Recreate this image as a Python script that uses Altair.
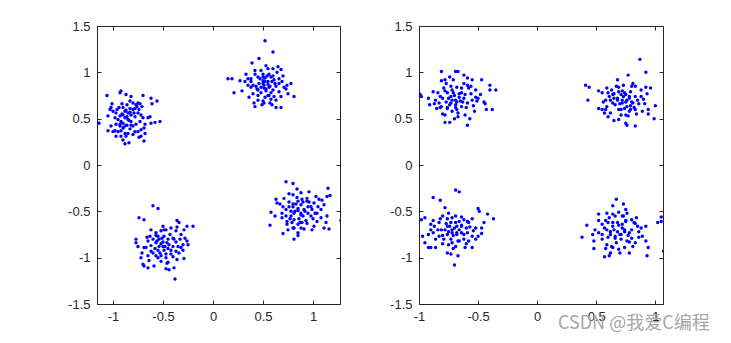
import altair as alt
import pandas as pd

# ---------------- data ----------------
left_ul = [(-1.16,0.46),(-1.14,0.45),(-1.06,0.75),(-1.01,0.66),(-1.02,0.62),(-1.03,0.60),(-1.00,0.58),(-1.05,0.53),(-0.97,0.56),(-0.98,0.51),
(-0.93,0.53),(-0.95,0.49),(-0.92,0.47),(-0.97,0.44),(-0.93,0.42),(-0.90,0.40),(-1.02,0.42),(-1.05,0.37),(-0.98,0.37),(-0.95,0.36),
(-0.92,0.37),(-0.88,0.34),(-0.87,0.31),(-0.90,0.27),(-0.88,0.23),(-0.84,0.24),(-0.93,0.78),(-0.92,0.80),(-0.87,0.76),(-0.82,0.74),
(-0.80,0.67),(-0.77,0.65),(-0.75,0.67),(-0.78,0.61),(-0.83,0.61),(-0.87,0.59),(-0.90,0.62),(-0.85,0.56),(-0.82,0.54),(-0.78,0.52),
(-0.75,0.56),(-0.72,0.54),(-0.70,0.51),(-0.73,0.47),(-0.77,0.44),(-0.80,0.42),(-0.83,0.39),(-0.85,0.34),(-0.80,0.33),(-0.75,0.36),
(-0.72,0.38),(-0.69,0.40),(-0.68,0.44),(-0.65,0.51),(-0.63,0.52),(-0.62,0.45),(-0.58,0.46),(-0.53,0.47),(-0.62,0.72),(-0.56,0.69),
(-0.61,0.66),(-0.70,0.75),(-0.74,0.30),(-0.69,0.26),(-0.82,0.43),(-0.87,0.43),(-0.88,0.51),(-0.90,0.54),(-1.00,0.36),(-0.97,0.31),
(-0.85,0.49),(-0.82,0.47),(-0.78,0.36),(-0.68,0.34),(-0.92,0.31),(-0.72,0.31),
(-0.91,0.55),(-0.88,0.58),(-0.86,0.52),(-0.84,0.48),(-0.90,0.45),(-0.93,0.44),(-0.89,0.41),(-0.86,0.43),(-0.83,0.57),(-0.80,0.60),
(-0.76,0.63),(-0.79,0.56),(-0.74,0.60),(-0.71,0.63),(-0.73,0.66),(-0.94,0.62),(-0.96,0.60),(-0.91,0.66),(-0.86,0.65),(-0.83,0.69)]

left_ur = [(0.52,1.34),(0.60,1.22),(0.39,1.10),(0.46,1.15),(0.53,1.07),(0.60,1.04),(0.65,1.06),(0.68,1.03),(0.15,0.93),(0.19,0.93),
(0.27,0.91),(0.21,0.78),(0.29,0.80),(0.33,0.98),(0.35,0.93),(0.38,0.90),(0.42,0.98),(0.45,0.95),(0.50,0.98),(0.52,0.94),
(0.55,0.90),(0.58,0.95),(0.61,0.92),(0.66,0.93),(0.69,0.90),(0.71,0.84),(0.73,0.82),(0.78,0.88),(0.81,0.74),(0.75,0.77),
(0.66,0.79),(0.61,0.74),(0.58,0.71),(0.55,0.75),(0.50,0.69),(0.45,0.70),(0.41,0.67),(0.42,0.63),(0.49,0.65),(0.51,0.67),
(0.59,0.65),(0.63,0.62),(0.68,0.62),(0.36,0.73),(0.40,0.77),(0.45,0.81),(0.48,0.84),(0.51,0.86),(0.53,0.82),(0.56,0.84),
(0.60,0.81),(0.63,0.85),(0.46,0.88),(0.43,0.85),(0.38,0.84),(0.35,0.86),(0.50,0.91),(0.56,0.98),(0.48,1.02),
(0.50,0.88),(0.52,0.90),(0.55,0.87),(0.57,0.85),(0.53,0.80),(0.48,0.78),(0.58,0.78),(0.62,0.88),(0.47,0.93),(0.54,0.96),
(0.51,0.83),(0.44,0.82),(0.60,0.96),(0.66,0.88),(0.40,0.86),(0.56,0.75),(0.52,0.73),(0.63,0.70),(0.45,0.75),(0.38,0.93),
(0.70,0.96),(0.74,0.86),(0.64,1.00),(0.55,1.04),(0.42,1.02),(0.32,0.90),(0.57,0.67),(0.68,0.74),(0.50,0.95),(0.59,0.90)]

left_ll = [(-0.60,-0.44),(-0.55,-0.47),(-0.74,-0.57),(-0.69,-0.59),(-0.36,-0.60),(-0.34,-0.62),(-0.20,-0.66),(-0.26,-0.66),(-0.77,-0.80),(-0.77,-0.84),
(-0.69,-0.89),(-0.72,-1.00),(-0.70,-1.07),(-0.69,-1.09),(-0.65,-1.11),(-0.59,-1.09),(-0.47,-1.12),(-0.44,-1.13),(-0.39,-1.11),(-0.38,-1.23),
(-0.52,-1.04),(-0.45,-1.05),(-0.36,-1.02),(-0.29,-1.01),(-0.34,-0.95),(-0.25,-0.86),(-0.26,-0.82),(-0.28,-0.79),(-0.32,-0.75),(-0.37,-0.71),
(-0.42,-0.68),(-0.47,-0.70),(-0.52,-0.71),(-0.57,-0.73),(-0.62,-0.70),(-0.63,-0.77),(-0.65,-0.82),(-0.62,-0.87),(-0.57,-0.84),(-0.54,-0.80),
(-0.49,-0.77),(-0.45,-0.80),(-0.40,-0.79),(-0.37,-0.83),(-0.40,-0.88),(-0.45,-0.90),(-0.50,-0.88),(-0.55,-0.92),(-0.60,-0.95),(-0.65,-0.98),
(-0.57,-0.98),(-0.52,-0.98),(-0.47,-1.00),(-0.42,-0.96),(-0.37,-0.93),(-0.32,-0.89),(-0.30,-0.86),(-0.67,-0.89),(-0.64,-1.03),(-0.49,-0.70),(-0.55,-0.77),
(-0.52,-0.85),(-0.50,-0.83),(-0.48,-0.88),(-0.46,-0.84),(-0.54,-0.88),(-0.56,-0.82),(-0.49,-0.92),(-0.44,-0.86),(-0.51,-0.79),(-0.58,-0.90),
(-0.42,-0.92),(-0.47,-0.96),(-0.53,-0.95),(-0.60,-0.80),(-0.39,-0.80),(-0.43,-0.75),(-0.55,-1.00),(-0.35,-0.88),(-0.62,-0.93),(-0.40,-0.99),
(-0.66,-0.78),(-0.57,-0.76),(-0.33,-0.80),(-0.30,-0.92),(-0.71,-0.95),(-0.46,-1.06),(-0.36,-0.67),(-0.50,-0.66),(-0.29,-0.70),(-0.75,-0.88)]

left_lr = [(0.73,-0.18),(0.80,-0.20),(0.84,-0.26),(0.88,-0.30),(0.80,-0.32),(0.76,-0.31),(0.71,-0.36),(0.63,-0.37),(0.64,-0.41),(0.58,-0.51),
(0.57,-0.65),(0.70,-0.74),(0.81,-0.80),(0.85,-0.76),(0.85,-0.73),(0.91,-0.69),(0.99,-0.70),(1.11,-0.68),(1.16,-0.69),(1.28,-0.60),
(1.15,-0.25),(1.17,-0.33),(1.14,-0.34),(1.09,-0.38),(1.06,-0.37),(1.03,-0.34),(0.96,-0.29),(0.94,-0.36),(0.94,-0.39),(0.89,-0.37),
(0.85,-0.39),(0.80,-0.42),(0.76,-0.45),(0.73,-0.48),(0.69,-0.52),(0.69,-0.57),(0.74,-0.61),(0.78,-0.55),(0.81,-0.52),(0.85,-0.49),
(0.88,-0.54),(0.91,-0.48),(0.95,-0.45),(0.99,-0.48),(1.04,-0.52),(1.08,-0.48),(1.11,-0.43),(1.08,-0.57),(1.04,-0.61),(1.01,-0.66),
(0.94,-0.63),(0.89,-0.62),(0.85,-0.64),(0.80,-0.68),(0.75,-0.70),(0.81,-0.59),(0.98,-0.55),(1.14,-0.55),(1.01,-0.41),(0.88,-0.43),
(0.82,-0.50),(0.85,-0.47),(0.88,-0.52),(0.80,-0.45),(0.78,-0.50),(0.90,-0.55),(0.86,-0.58),(0.92,-0.50),(0.76,-0.40),(0.83,-0.42),
(0.95,-0.52),(0.73,-0.55),(0.98,-0.45),(0.87,-0.62),(0.79,-0.62),(0.70,-0.45),(0.93,-0.60),(1.00,-0.58),(0.84,-0.35),(0.67,-0.42),
(1.05,-0.45),(0.62,-0.55),(0.96,-0.40),(0.90,-0.40),(1.13,-0.62),(0.81,-0.68),(0.74,-0.64),(1.02,-0.52),(0.88,-0.68),(0.77,-0.58)]

right_ul = [(-0.99,0.76),(-0.98,0.74),(-0.91,0.65),(-0.88,0.79),(-0.81,1.01),(-0.81,0.91),(-0.78,0.92),(-0.77,0.88),(-0.69,1.01),(-0.67,1.01),
(-0.62,0.97),(-0.59,0.94),(-0.47,0.92),(-0.40,0.86),(-0.35,0.81),(-0.40,0.81),(-0.38,0.60),(-0.43,0.60),(-0.44,0.66),(-0.52,0.73),
(-0.54,0.64),(-0.55,0.70),(-0.58,0.83),(-0.56,0.85),(-0.59,0.86),(-0.64,0.83),(-0.66,0.77),(-0.62,0.72),(-0.59,0.67),(-0.64,0.63),
(-0.68,0.60),(-0.72,0.58),(-0.76,0.61),(-0.81,0.63),(-0.83,0.67),(-0.85,0.61),(-0.78,0.54),(-0.78,0.46),(-0.74,0.46),(-0.67,0.52),
(-0.61,0.54),(-0.59,0.43),(-0.69,0.70),(-0.73,0.74),(-0.76,0.78),(-0.72,0.81),(-0.68,0.84),(-0.79,0.83),(-0.82,0.74),(-0.86,0.70),
(-0.73,0.67),(-0.69,0.65),(-0.65,0.69),(-0.61,0.76),(-0.52,0.81),(-0.48,0.76),(-0.51,0.69),(-0.55,0.92),(-0.71,0.92),
(-0.75,0.72),(-0.72,0.70),(-0.70,0.75),(-0.77,0.68),(-0.74,0.65),(-0.68,0.68),(-0.80,0.72),(-0.71,0.78),(-0.66,0.73),(-0.78,0.80),
(-0.63,0.68),(-0.76,0.62),(-0.69,0.62),(-0.82,0.62),(-0.64,0.78),(-0.73,0.85),(-0.60,0.62),(-0.56,0.77),(-0.84,0.78),(-0.87,0.66),
(-0.67,0.56),(-0.62,0.88),(-0.74,0.95),(-0.50,0.72),(-0.92,0.72),(-0.45,0.68),(-0.53,0.58),(-0.70,0.50),(-0.57,0.50),(-0.80,0.55)]

right_ur = [(0.87,1.14),(0.92,1.00),(0.77,0.97),(0.68,0.92),(0.41,0.86),(0.44,0.84),(0.43,0.70),(0.52,0.80),(0.55,0.78),(0.59,0.83),
(0.63,0.81),(0.65,0.77),(0.69,0.84),(0.72,0.80),(0.75,0.76),(0.79,0.79),(0.81,0.88),(0.83,0.85),(0.88,0.81),(0.92,0.84),
(0.96,0.83),(0.90,0.71),(0.94,0.60),(0.99,0.50),(1.00,0.64),(0.94,0.55),(0.89,0.58),(0.83,0.60),(0.79,0.64),(0.75,0.54),
(0.76,0.43),(0.83,0.42),(0.75,0.45),(0.69,0.49),(0.65,0.48),(0.60,0.52),(0.57,0.56),(0.55,0.60),(0.59,0.63),(0.52,0.61),
(0.64,0.67),(0.68,0.70),(0.72,0.67),(0.76,0.70),(0.81,0.67),(0.85,0.70),(0.69,0.60),(0.74,0.61),(0.78,0.58),(0.61,0.74),
(0.65,0.72),(0.78,0.74),(0.71,0.76),(0.58,0.70),(0.62,0.56),
(0.72,0.70),(0.75,0.68),(0.70,0.66),(0.78,0.72),(0.73,0.74),(0.68,0.72),(0.80,0.68),(0.76,0.63),(0.71,0.60),(0.66,0.65),
(0.83,0.74),(0.74,0.78),(0.86,0.66),(0.64,0.76),(0.79,0.60),(0.69,0.79),(0.82,0.62),(0.62,0.70),(0.88,0.74),(0.77,0.53),
(0.71,0.54),(0.60,0.78),(0.84,0.55),(0.91,0.66),(0.67,0.85),(0.80,0.85),(0.56,0.68),(0.73,0.86),(0.93,0.77),(0.58,0.60)]

right_ll = [(-0.69,-0.27),(-0.66,-0.29),(-0.88,-0.35),(-0.82,-0.38),(-0.98,-0.59),(-0.95,-0.57),(-0.97,-0.77),(-0.95,-0.84),(-0.92,-0.89),(-0.90,-0.89),
(-0.86,-0.89),(-0.76,-0.95),(-0.73,-0.96),(-0.67,-0.98),(-0.70,-1.08),(-0.61,-0.89),(-0.55,-0.89),(-0.50,-0.47),(-0.49,-0.50),(-0.42,-0.53),
(-0.37,-0.58),(-0.47,-0.74),(-0.50,-0.77),(-0.54,-0.71),(-0.57,-0.67),(-0.59,-0.61),(-0.62,-0.59),(-0.66,-0.61),(-0.69,-0.55),(-0.72,-0.57),
(-0.75,-0.52),(-0.78,-0.46),(-0.80,-0.55),(-0.83,-0.62),(-0.87,-0.66),(-0.90,-0.64),(-0.90,-0.70),(-0.88,-0.73),(-0.83,-0.77),(-0.79,-0.80),
(-0.75,-0.86),(-0.72,-0.84),(-0.69,-0.88),(-0.66,-0.82),(-0.62,-0.80),(-0.59,-0.73),(-0.64,-0.73),(-0.68,-0.75),(-0.72,-0.73),(-0.76,-0.75),
(-0.81,-0.70),(-0.76,-0.66),(-0.73,-0.62),(-0.68,-0.66),(-0.64,-0.66),(-0.55,-0.77),(-0.52,-0.68),(-0.47,-0.68),(-0.58,-0.82),
(-0.72,-0.70),(-0.70,-0.68),(-0.75,-0.72),(-0.68,-0.73),(-0.74,-0.66),(-0.66,-0.70),(-0.78,-0.70),(-0.71,-0.76),(-0.64,-0.65),(-0.77,-0.63),
(-0.69,-0.62),(-0.73,-0.80),(-0.80,-0.76),(-0.62,-0.75),(-0.84,-0.70),(-0.67,-0.82),(-0.60,-0.68),(-0.58,-0.62),(-0.76,-0.58),(-0.86,-0.80),
(-0.64,-0.56),(-0.92,-0.75),(-0.55,-0.58),(-0.82,-0.58),(-0.71,-0.90),(-0.60,-0.85),(-0.88,-0.60),(-0.52,-0.80),(-0.80,-0.85),(-0.45,-0.62)]

right_lr = [(0.67,-0.37),(0.73,-0.42),(0.52,-0.53),(0.42,-0.65),(0.38,-0.78),(0.48,-0.90),(0.57,-0.99),(0.61,-0.98),(0.62,-0.95),(0.78,-0.95),
(0.81,-0.88),(0.93,-0.98),(0.94,-0.89),(1.07,-0.93),(1.02,-0.62),(1.05,-0.61),(1.05,-0.56),(0.92,-0.66),(0.89,-0.77),(0.86,-0.72),
(0.85,-0.66),(0.82,-0.62),(0.84,-0.57),(0.80,-0.59),(0.76,-0.52),(0.72,-0.55),(0.69,-0.51),(0.64,-0.53),(0.61,-0.57),(0.58,-0.60),
(0.55,-0.64),(0.52,-0.73),(0.55,-0.80),(0.59,-0.86),(0.64,-0.89),(0.69,-0.91),(0.74,-0.89),(0.76,-0.82),(0.80,-0.79),(0.78,-0.73),
(0.74,-0.70),(0.71,-0.75),(0.66,-0.79),(0.62,-0.75),(0.59,-0.70),(0.64,-0.66),(0.68,-0.62),(0.72,-0.64),(0.75,-0.61),(0.64,-0.44),
(0.59,-0.52),(0.47,-0.75),(0.49,-0.70),(0.83,-0.84),(0.92,-0.82),
(0.68,-0.72),(0.70,-0.75),(0.65,-0.70),(0.72,-0.68),(0.66,-0.77),(0.74,-0.72),(0.62,-0.72),(0.69,-0.65),(0.71,-0.80),(0.64,-0.62),
(0.77,-0.76),(0.60,-0.78),(0.75,-0.60),(0.67,-0.84),(0.57,-0.68),(0.80,-0.70),(0.63,-0.88),(0.73,-0.55),(0.83,-0.63),(0.55,-0.75),
(0.66,-0.55),(0.78,-0.83),(0.60,-0.62),(0.86,-0.78),(0.52,-0.60),(0.70,-0.95),(0.88,-0.68),(0.48,-0.82),(0.75,-0.48),(0.58,-0.90)]

x_ticks = [-1, -0.5, 0, 0.5, 1]
y_ticks = [-1.5, -1, -0.5, 0, 0.5, 1, 1.5]
left_x_domain = [-1.16, 1.27]
right_x_domain = [-1.0, 1.065]
y_domain = [-1.5, 1.5]
watermark = ["CSDN @我爱C编程"]

# ---------------- chart ----------------
INK = "#262626"
FONT = "Liberation Sans"


def to_df(*clusters):
    rows = [p for c in clusters for p in c]
    return pd.DataFrame({"x": [r[0] for r in rows], "y": [r[1] for r in rows]})


def axis(orient, labels, values):
    return alt.Axis(orient=orient, values=values, labels=labels, domain=False, grid=False,
                    ticks=True, tickSize=4, offset=-4, tickColor=INK, tickWidth=1,
                    labelColor=INK, labelFont=FONT, labelFontSize=13,
                    labelPadding=7 if orient == "left" else 6,
                    labelFlush=False, labelOverlap=False,
                    labelExpr="'' + datum.value", title=None)


def panel(df, xdom, extra=None, w=243):
    xs = alt.Scale(domain=xdom, nice=False, zero=False)
    ys = alt.Scale(domain=y_domain, nice=False, zero=False)
    base = alt.Chart(df)
    pts = base.mark_circle(size=12, color="#0000ff", opacity=1, clip=True).encode(
        x=alt.X("x:Q", scale=xs, axis=axis("bottom", True, x_ticks)),
        y=alt.Y("y:Q", scale=ys, axis=axis("left", True, y_ticks)),
    )
    mirror = base.mark_circle(size=12, opacity=0, clip=True).encode(
        x=alt.X("x:Q", scale=xs, axis=axis("top", False, x_ticks)),
        y=alt.Y("y:Q", scale=ys, axis=axis("right", False, y_ticks)),
    )
    layers = [pts, mirror]
    if extra is not None:
        layers.append(extra)
    return alt.layer(*layers).resolve_axis(x="independent", y="independent").properties(
        width=w, height=278)


wm = alt.Chart(pd.DataFrame({"t": watermark})).mark_text(
    align="left", baseline="middle", font="Noto Sans CJK SC", fontSize=18, color="#a6a6a6"
).encode(text="t:N", x=alt.value(139), y=alt.value(298))

left = panel(to_df(left_ul, left_ur, left_ll, left_lr), left_x_domain, w=243)
right = panel(to_df(right_ul, right_ur, right_ll, right_lr), right_x_domain, extra=wm, w=244)

chart = alt.hconcat(left, right, spacing=79, bounds="flush").properties(
    padding={"left": 67, "top": 19, "right": 5, "bottom": 5},
    background="white",
).configure_view(stroke=INK, strokeWidth=1)

chart.save("out.html", embed_options={"renderer": "svg", "actions": False})
